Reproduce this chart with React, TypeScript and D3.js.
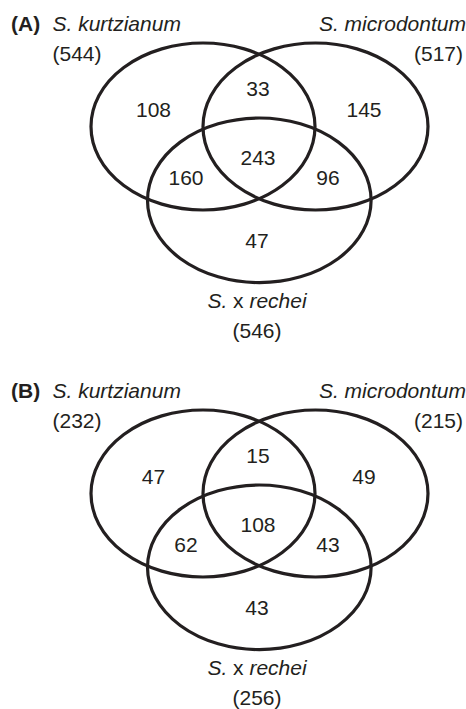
import React from "react";
import * as d3 from "d3";

// ---- Data ----
const panelLabels = ["(A)", "(B)"];
const setNames = ["S. kurtzianum", "S. microdontum", "S. x rechei"];
const totalsA = [544, 517, 546];
const totalsB = [232, 215, 256];
// region order: K only, K∩M only, M only, K∩M∩R, K∩R only, M∩R only, R only
const regionKeys = ["K", "KM", "M", "KMR", "KR", "MR", "R"];
const regionsA = [108, 33, 145, 243, 160, 96, 47];
const regionsB = [47, 15, 49, 108, 62, 43, 43];

const panels = [
  { label: panelLabels[0], totals: totalsA, regions: regionsA },
  { label: panelLabels[1], totals: totalsB, regions: regionsB },
];

// ---- Layout (positions in a local panel frame) ----
const W = 466;
const H = 709;
const panelY = d3.scaleLinear().domain([0, 1]).range([0, 367]);

const ellipses = [
  { cx: 203, cy: 126.5, rx: 112, ry: 83.5 },
  { cx: 315.5, cy: 126.5, rx: 112.5, ry: 83.5 },
  { cx: 259.3, cy: 200.3, rx: 111.8, ry: 82.3 },
];

const regionPos: Record<string, [number, number]> = {
  K: [153.5, 117],
  KM: [258, 96],
  M: [364, 117],
  KMR: [258, 165],
  KR: [186, 185],
  MR: [328, 185],
  R: [257, 248],
};

const FONT = "'Liberation Sans', Arial, Helvetica, sans-serif";
const INK = "#231f20";

function Panel({ p, i }: { p: (typeof panels)[number]; i: number }) {
  const fmt = d3.format("d");
  return (
    <g transform={`translate(0,${panelY(i)})`}>
      {ellipses.map((e, k) => (
        <ellipse
          key={k}
          cx={e.cx}
          cy={e.cy}
          rx={e.rx}
          ry={e.ry}
          fill="none"
          stroke={INK}
          strokeWidth={3.2}
        />
      ))}
      {regionKeys.map((k, j) => (
        <text
          key={k}
          x={regionPos[k][0]}
          y={regionPos[k][1]}
          textAnchor="middle"
        >
          {fmt(p.regions[j])}
        </text>
      ))}
      <text x={11} y={31} fontWeight="bold">
        {p.label}
      </text>
      <text x={52.5} y={31} fontStyle="italic">
        {setNames[0]}
      </text>
      <text x={52.5} y={61}>
        ({fmt(p.totals[0])})
      </text>
      <text x={466} y={31} textAnchor="end" fontStyle="italic">
        {setNames[1]}
      </text>
      <text x={463} y={61} textAnchor="end">
        ({fmt(p.totals[1])})
      </text>
      <text x={257} y={308} textAnchor="middle">
        <tspan fontStyle="italic">{setNames[2].split(" ")[0]}</tspan>
        <tspan> {setNames[2].split(" ")[1]} </tspan>
        <tspan fontStyle="italic">{setNames[2].split(" ")[2]}</tspan>
      </text>
      <text x={257} y={338} textAnchor="middle">
        ({fmt(p.totals[2])})
      </text>
    </g>
  );
}

export default function App() {
  return (
    <svg
      width={W}
      height={H}
      style={{ position: "absolute", left: 0, top: 0, background: "#fff" }}
      fontFamily={FONT}
      fontSize={21}
      fill={INK}
    >
      <rect width={W} height={H} fill="#fff" />
      {panels.map((p, i) => (
        <Panel key={i} p={p} i={i} />
      ))}
    </svg>
  );
}
